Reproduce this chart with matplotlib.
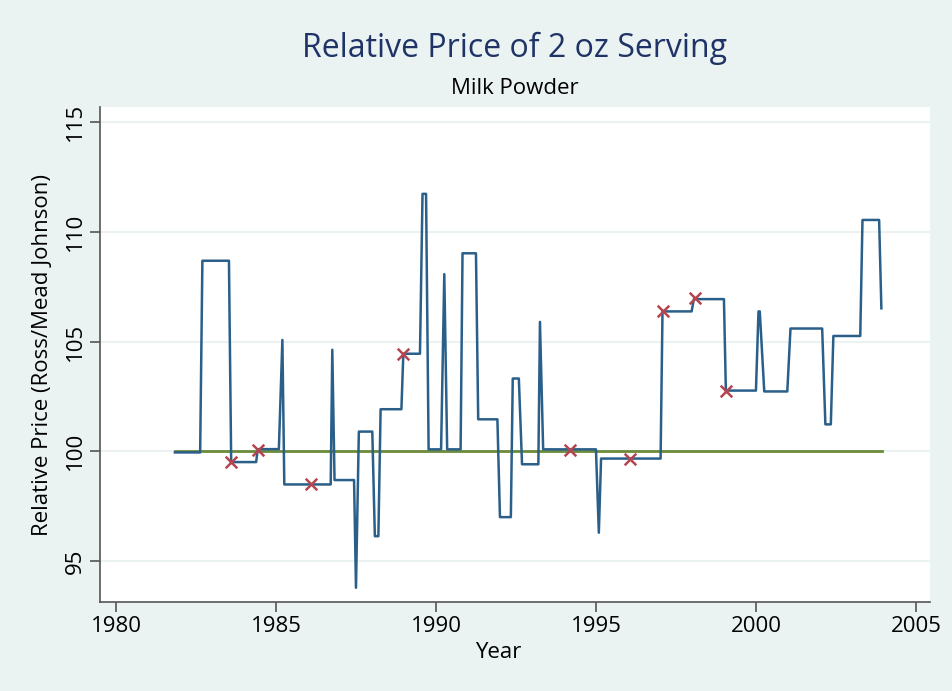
import matplotlib

matplotlib.use("Agg")
import matplotlib.pyplot as plt

# relative price series (Ross / Mead Johnson)
years = [1981.84, 1982.63, 1982.70, 1983.53, 1983.60, 1984.38, 1984.43, 1985.09,
         1985.20, 1985.26, 1986.71, 1986.76, 1986.83, 1987.44, 1987.50, 1987.59,
         1988.01, 1988.09, 1988.20, 1988.27, 1988.92, 1988.98, 1989.50, 1989.58,
         1989.69, 1989.77, 1990.16, 1990.26, 1990.35, 1990.77, 1990.83, 1991.25,
         1991.32, 1991.92, 1992.00, 1992.34, 1992.40, 1992.59, 1992.69, 1993.20,
         1993.25, 1993.35, 1995.00, 1995.09, 1995.16, 1997.02, 1997.08, 1997.99,
         1998.06, 1999.00, 1999.06, 2000.00, 2000.08, 2000.12, 2000.26, 2000.98,
         2001.08, 2002.07, 2002.17, 2002.34, 2002.42, 2003.26, 2003.33, 2003.85,
         2003.92]
price = [99.95, 99.95, 108.69, 108.69, 99.51, 99.51, 100.10, 100.10,
         105.08, 98.49, 98.49, 104.63, 98.69, 98.69, 93.78, 100.90,
         100.90, 96.13, 96.13, 101.92, 101.92, 104.45, 104.45, 111.74,
         111.74, 100.09, 100.09, 108.08, 100.09, 100.09, 109.03, 109.03,
         101.46, 101.46, 97.00, 97.00, 103.32, 103.32, 99.41, 99.41,
         105.90, 100.09, 100.09, 96.29, 99.67, 99.67, 106.38, 106.38,
         106.94, 106.94, 102.77, 102.77, 106.38, 106.38, 102.73, 102.73,
         105.60, 105.60, 101.23, 101.23, 105.26, 105.26, 110.55, 110.55,
         106.52]

# marked observations
mark_years = [1983.60, 1984.43, 1986.11, 1988.98, 1994.19, 1996.06, 1997.08, 1998.09, 1999.06]
mark_price = [99.51, 100.06, 98.49, 104.45, 100.06, 99.63, 106.38, 106.97, 102.77]

# parity reference
ref_years = [1981.84, 2003.95]
ref_price = [100.0, 100.0]

xticks = [1980, 1985, 1990, 1995, 2000, 2005]
yticks = [95, 100, 105, 110, 115]

BG = "#eaf2f2"
plt.rcParams["font.family"] = ["Open Sans", "DejaVu Sans"]

fig = plt.figure(figsize=(9.53, 6.91), dpi=100, facecolor=BG)
ax = fig.add_axes([100 / 953, 1 - 602 / 691, 830 / 953, 495 / 691])
ax.set_facecolor("white")

ax.plot(ref_years, ref_price, color="#6b8a3a", lw=2.0, zorder=2)
ax.plot(years, price, color="#2a5f8a", lw=1.8, zorder=3)
ax.scatter(mark_years, mark_price, marker="x", s=70, color="#b5454f", lw=1.8, zorder=4)

ax.set_xlim(1979.5, 2005.44)
ax.set_ylim(93.13, 115.7)
ax.set_xticks(xticks)
ax.set_yticks(yticks)
ax.set_yticklabels([str(v) for v in yticks], rotation=90, va="center")
ax.tick_params(axis="both", labelsize=16, length=7, width=1.2, color="#555555", pad=3)
ax.grid(axis="y", color="#eaf2f2", lw=1.5, zorder=0)
ax.grid(axis="x", visible=False)

for side in ("top", "right"):
    ax.spines[side].set_visible(False)
for side in ("left", "bottom"):
    ax.spines[side].set_color("#555555")
    ax.spines[side].set_linewidth(1.2)

ax.set_xlabel("Year", fontsize=16, va="center")
ax.xaxis.set_label_coords(0.4795, -50 / 495)
ax.set_ylabel("Relative Price (Ross/Mead Johnson)", fontsize=16, va="center")
ax.yaxis.set_label_coords(-57 / 830, 0.5)

fig.text(515 / 953, 1 - 48 / 691, "Relative Price of 2 oz Serving", fontsize=23,
         color="#1f3366", ha="center", va="center")
fig.text(515 / 953, 1 - 88 / 691, "Milk Powder", fontsize=16, color="black",
         ha="center", va="center")

fig.savefig("out.png", dpi=100, facecolor=BG)
